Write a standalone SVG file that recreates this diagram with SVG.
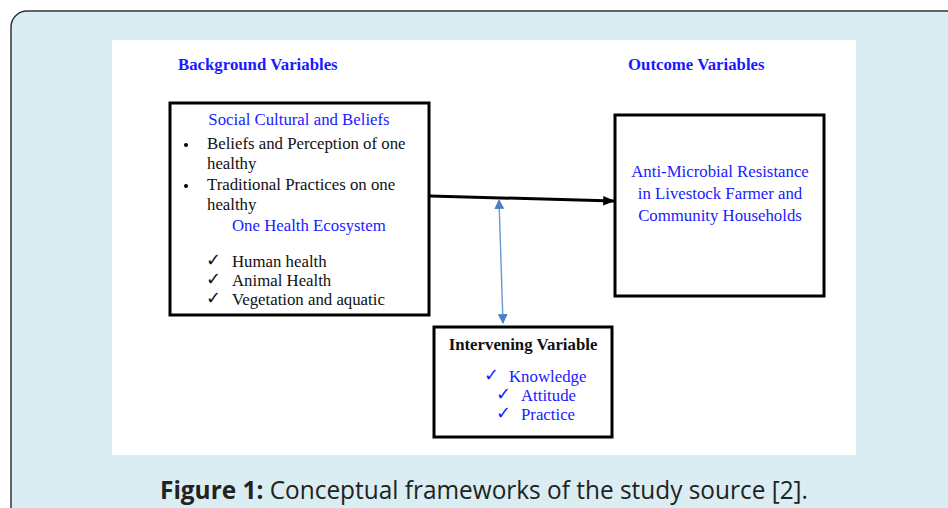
<svg xmlns="http://www.w3.org/2000/svg" width="948" height="508" viewBox="0 0 948 508">
<defs>
<marker id="ah" viewBox="0 0 10 10" refX="9" refY="5" markerWidth="4" markerHeight="4" orient="auto" markerUnits="strokeWidth"><path d="M0,1 L10,5 L0,9 z" fill="#000"/></marker>
<marker id="bh" viewBox="0 0 10 10" refX="9" refY="5" markerWidth="7" markerHeight="7" orient="auto-start-reverse" markerUnits="strokeWidth"><path d="M0,0 L10,5 L0,10 z" fill="#4a7fc4"/></marker>
</defs>
<style>
.t{font-family:"Liberation Serif","Times New Roman",serif;font-size:16.8px;fill:#111}
.b{fill:#1a1aff}
.h{font-weight:bold}
.ck{font-family:"DejaVu Sans",sans-serif;font-size:18px}
.box{fill:#fff;stroke:#000;stroke-width:3}
.cap{font-family:"Open Sans","Noto Sans",sans-serif;font-size:25px;fill:#222}
</style>
<rect x="11" y="11" width="960" height="520" rx="16" fill="#d9edf2" stroke="#333" stroke-width="1.5"/>
<rect x="112" y="40" width="744" height="415" fill="#fff"/>
<text class="t b h" x="178" y="70">Background Variables</text>
<text class="t b h" x="628" y="70">Outcome Variables</text>
<g id="connectors">
<line x1="430" y1="196" x2="614" y2="201" stroke="#000" stroke-width="3" marker-end="url(#ah)"/>
<line x1="499" y1="200" x2="503" y2="323" stroke="#6a98d4" stroke-width="1.4" marker-start="url(#bh)" marker-end="url(#bh)"/>
</g>
<g id="background">
<rect class="box" x="170" y="103" width="259" height="212"/>
<text class="t b" x="299" y="125" text-anchor="middle">Social Cultural and Beliefs</text>
<circle cx="186" cy="145" r="2"/>
<text class="t" x="207" y="149">Beliefs and Perception of one</text>
<text class="t" x="207" y="169">healthy</text>
<circle cx="186" cy="186" r="2"/>
<text class="t" x="207" y="190">Traditional Practices on one</text>
<text class="t" x="207" y="210">healthy</text>
<text class="t b" x="232" y="231">One Health Ecosystem</text>
<text class="t ck" x="206" y="266">✓</text>
<text class="t" x="232" y="267">Human health</text>
<text class="t ck" x="206" y="285">✓</text>
<text class="t" x="232" y="286">Animal Health</text>
<text class="t ck" x="206" y="304">✓</text>
<text class="t" x="232" y="305">Vegetation and aquatic</text>
</g>
<g id="outcome">
<rect class="box" x="615" y="115" width="209" height="181"/>
<text class="t b" x="720" y="177" text-anchor="middle">Anti-Microbial Resistance</text>
<text class="t b" x="720" y="199" text-anchor="middle">in Livestock Farmer and</text>
<text class="t b" x="720" y="221" text-anchor="middle">Community Households</text>
</g>
<g id="intervening">
<rect class="box" x="434" y="327" width="178" height="110"/>
<text class="t h" x="523" y="350" text-anchor="middle">Intervening Variable</text>
<text class="t b ck" x="484" y="381">✓</text>
<text class="t b" x="509" y="382">Knowledge</text>
<text class="t b ck" x="496" y="400">✓</text>
<text class="t b" x="521" y="401">Attitude</text>
<text class="t b ck" x="496" y="419">✓</text>
<text class="t b" x="521" y="420">Practice</text>
</g>
<text class="cap" x="484" y="499" text-anchor="middle" textLength="648" lengthAdjust="spacingAndGlyphs"><tspan font-weight="bold">Figure 1:</tspan> Conceptual frameworks of the study source [2].</text>
</svg>
